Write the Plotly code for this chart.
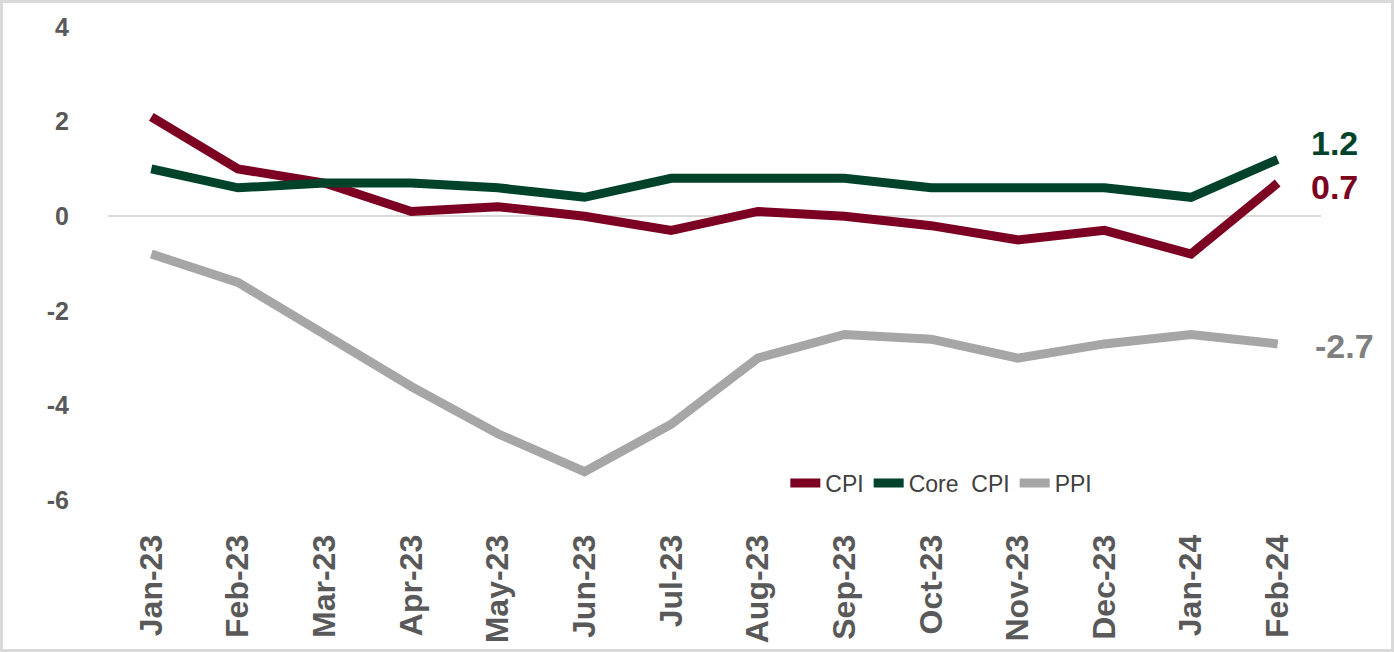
import plotly.graph_objects as go

months = ["Jan-23", "Feb-23", "Mar-23", "Apr-23", "May-23", "Jun-23", "Jul-23",
          "Aug-23", "Sep-23", "Oct-23", "Nov-23", "Dec-23", "Jan-24", "Feb-24"]
cpi = [2.1, 1.0, 0.7, 0.1, 0.2, 0.0, -0.3, 0.1, 0.0, -0.2, -0.5, -0.3, -0.8, 0.7]
core_cpi = [1.0, 0.6, 0.7, 0.7, 0.6, 0.4, 0.8, 0.8, 0.8, 0.6, 0.6, 0.6, 0.4, 1.2]
ppi = [-0.8, -1.4, -2.5, -3.6, -4.6, -5.4, -4.4, -3.0, -2.5, -2.6, -3.0, -2.7, -2.5, -2.7]
y_ticks = [4, 2, 0, -2, -4, -6]
y_tick_labels = ["4", "2", "0", "-2", "-4", "-6"]

C_CPI = "#7B0021"
C_CORE = "#00432A"
C_PPI = "#A6A6A6"
FONT = "Liberation Sans, Arial, sans-serif"

fig = go.Figure()
fig.add_trace(go.Scatter(x=months, y=cpi, name="CPI", mode="lines",
                         line=dict(color=C_CPI, width=9)))
fig.add_trace(go.Scatter(x=months, y=core_cpi, name="Core  CPI", mode="lines",
                         line=dict(color=C_CORE, width=9)))
fig.add_trace(go.Scatter(x=months, y=ppi, name="PPI", mode="lines",
                         line=dict(color=C_PPI, width=9)))

for vals, col, dy, dx in [(core_cpi, C_CORE, 16, 31), (cpi, C_CPI, -4, 31), (ppi, "#808080", -2, 35)]:
    fig.add_annotation(x=months[-1], y=vals[-1], text=f"<b>{vals[-1]:.1f}</b>",
                       showarrow=False, xanchor="left", xshift=dx, yshift=dy,
                       font=dict(size=34, color=col, family=FONT))

fig.update_layout(
    width=1394, height=652,
    margin=dict(l=108, r=73, t=27, b=152),
    paper_bgcolor="white", plot_bgcolor="white",
    font=dict(family=FONT, color="#595959"),
    showlegend=True,
    legend=dict(orientation="h", x=0.687, xanchor="center", y=0.036, yanchor="middle",
                font=dict(size=23, color="#404040",
                          family="Liberation Sans Narrow, Arial Narrow, Liberation Sans, Arial"),
                bgcolor="rgba(0,0,0,0)", traceorder="normal"),
    xaxis=dict(type="category", range=[-0.5, 13.5], showgrid=False, showline=False,
               zeroline=False, tickangle=-90, ticks="outside", ticklen=21,
               tickcolor="rgba(0,0,0,0)", automargin=False,
               tickfont=dict(size=32, color="#595959", family=FONT, weight="bold")),
    yaxis=dict(range=[-6, 4], tickvals=y_ticks, ticktext=y_tick_labels,
               showgrid=False, showline=False,
               zeroline=True, zerolinecolor="#D9D9D9", zerolinewidth=2,
               ticks="outside", ticklen=33, tickcolor="rgba(0,0,0,0)", automargin=False,
               tickfont=dict(size=25, color="#595959", family=FONT, weight="bold")),
    shapes=[dict(type="rect", xref="paper", yref="paper",
                 x0=-107/1213, x1=1 + 72/1213, y0=-151/473, y1=1 + 26/473,
                 line=dict(color="#D9D9D9", width=4), layer="below")],
)

fig.write_html("out.html", config={"displayModeBar": False},
               post_script="document.body.style.margin='0px';")
